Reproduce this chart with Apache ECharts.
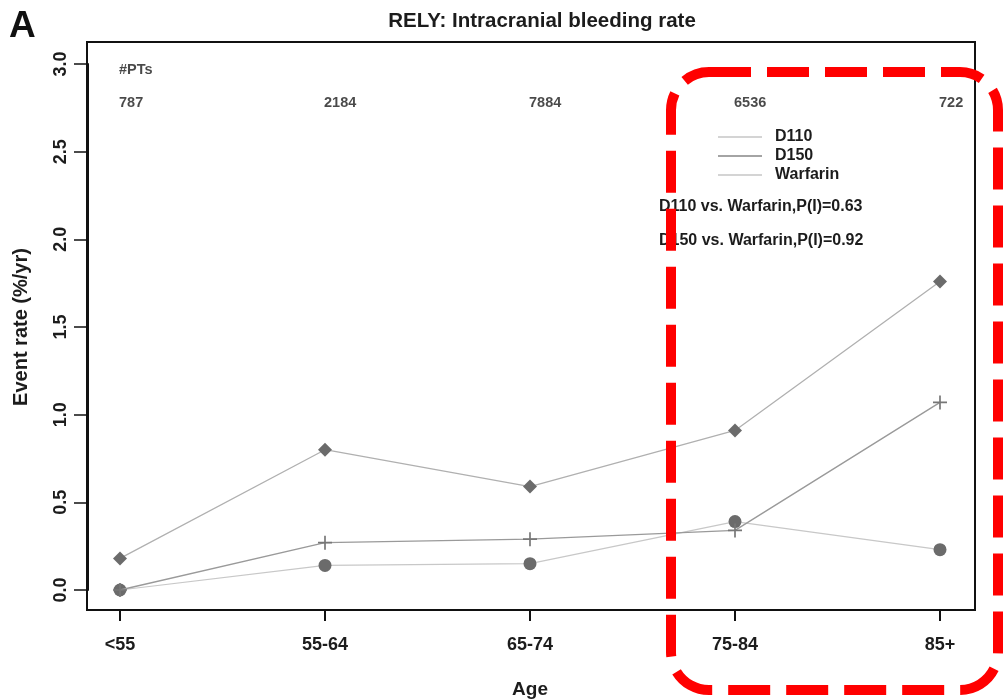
<!DOCTYPE html>
<html><head><meta charset="utf-8">
<script src="https://cdn.jsdelivr.net/npm/echarts@6/dist/echarts.min.js"></script>
<style>html,body{margin:0;padding:0;background:#fff}#c{width:1006px;height:700px}</style>
</head><body><div id="c"></div>
<script>
const categories = ['<55', '55-64', '65-74', '75-84', '85+'];
const patients = ['787', '2184', '7884', '6536', '722'];
const d110 = [0.0, 0.14, 0.15, 0.39, 0.23];
const d150 = [0.0, 0.27, 0.29, 0.34, 1.07];
const warfarin = [0.18, 0.80, 0.59, 0.91, 1.76];
const yTicks = [0, 0.5, 1.0, 1.5, 2.0, 2.5, 3.0];
const pValues = ['D110 vs. Warfarin,P(I)=0.63', 'D150 vs. Warfarin,P(I)=0.92'];

const FONT = 'Liberation Sans, Arial, sans-serif';
const TXT = '#1c1c1c';
const MARK = '#6b6b6b';
const plus = 'path://M4.4,0H5.6V10H4.4Z M0,4.4H10V5.6H0Z';

const chart = echarts.init(document.getElementById('c'));
chart.setOption({
  animation: false,
  backgroundColor: '#fff',
  textStyle: {fontFamily: FONT},
  title: {
    text: 'RELY: Intracranial bleeding rate',
    left: 537, top: 6, textAlign: 'center',
    textStyle: {fontFamily: FONT, fontSize: 20.5, fontWeight: 'bold', color: TXT}
  },
  grid: {left: 120, right: 66, top: 64, bottom: 110, containLabel: false, outerBoundsMode: 'none'},
  legend: {
    left: 713, top: 124, orient: 'vertical', itemGap: 3,
    itemWidth: 44, itemHeight: 2,
    textStyle: {fontFamily: FONT, fontSize: 16, fontWeight: 'bold', color: TXT, padding: [0, 0, 0, 8]},
    data: [
      {name: 'D110', icon: 'rect', itemStyle: {color: '#d4d4d4'}},
      {name: 'D150', icon: 'rect', itemStyle: {color: '#a4a4a4'}},
      {name: 'Warfarin', icon: 'rect', itemStyle: {color: '#d4d4d4'}}
    ]
  },
  xAxis: {
    type: 'category', data: categories, boundaryGap: false, offset: 20,
    axisLine: {show: true, onZero: false, lineStyle: {color: '#111', width: 2}},
    axisTick: {show: true, length: 11, lineStyle: {color: '#111', width: 2}},
    axisLabel: {fontFamily: FONT, fontSize: 18, fontWeight: 'bold', color: TXT, margin: 26},
    splitLine: {show: false},
    name: 'Age', nameLocation: 'middle', nameGap: 70,
    nameTextStyle: {fontFamily: FONT, fontSize: 19, fontWeight: 'bold', color: TXT}
  },
  yAxis: {
    type: 'value', min: 0, max: 3, interval: 0.5, offset: 32,
    axisLine: {show: true, lineStyle: {color: '#111', width: 2}},
    axisTick: {show: true, length: 14, lineStyle: {color: '#111', width: 1.5}},
    axisLabel: {fontFamily: FONT, fontSize: 18, fontWeight: 'bold', color: TXT, rotate: 90, margin: 18,
      formatter: v => yTicks.includes(v) ? v.toFixed(1) : ''},
    splitLine: {show: false},
    name: 'Event rate (%/yr)', nameLocation: 'middle', nameGap: 57,
    nameTextStyle: {fontFamily: FONT, fontSize: 20, fontWeight: 'bold', color: TXT}
  },
  series: [
    {name: 'D110', type: 'line', data: d110, symbol: 'circle', symbolSize: 13,
      itemStyle: {color: MARK}, lineStyle: {color: '#c8c8c8', width: 1.2}, z: 3},
    {name: 'D150', type: 'line', data: d150, symbol: plus, symbolSize: 14,
      itemStyle: {color: '#777'}, lineStyle: {color: '#9a9a9a', width: 1.4}, z: 4},
    {name: 'Warfarin', type: 'line', data: warfarin, symbol: 'diamond', symbolSize: 14,
      itemStyle: {color: MARK}, lineStyle: {color: '#b0b0b0', width: 1.3}, z: 3},
    {name: 'pts', type: 'scatter', symbolSize: 0, silent: true,
      data: patients.map((p, i) => [categories[i], 2.78]),
      label: {show: true, position: 'right', distance: -1, align: 'left',
        formatter: p => patients[p.dataIndex],
        fontFamily: FONT, fontSize: 14.5, fontWeight: 'bold', color: TXT}},
    {name: 'ptsHeader', type: 'scatter', symbolSize: 0, silent: true,
      data: [[categories[0], 2.965]],
      label: {show: true, position: 'right', distance: -1, align: 'left',
        formatter: '#PTs', fontFamily: FONT, fontSize: 14.5, fontWeight: 'bold', color: TXT}}
  ],
  graphic: [
    {type: 'rect', shape: {x: 87, y: 42, width: 888, height: 568}, z: 0,
      style: {fill: 'none', stroke: '#111', lineWidth: 2}},
    {type: 'text', left: 9, top: 8, z: 10,
      style: {text: 'A', fontFamily: FONT, fontSize: 37, fontWeight: 'bold', fill: '#111'}},
    {type: 'text', left: 659, top: 199, z: 10,
      style: {text: pValues[0], fontFamily: FONT, fontSize: 16, fontWeight: 'bold', fill: TXT}},
    {type: 'text', left: 659, top: 233, z: 10,
      style: {text: pValues[1], fontFamily: FONT, fontSize: 16, fontWeight: 'bold', fill: TXT}},
    {type: 'rect', shape: {x: 671, y: 72, width: 327, height: 618, r: 38}, z: 20,
      style: {fill: 'none', stroke: '#ff0000', lineWidth: 10, lineDash: [42, 16]}}
  ]
});
</script></body></html>
